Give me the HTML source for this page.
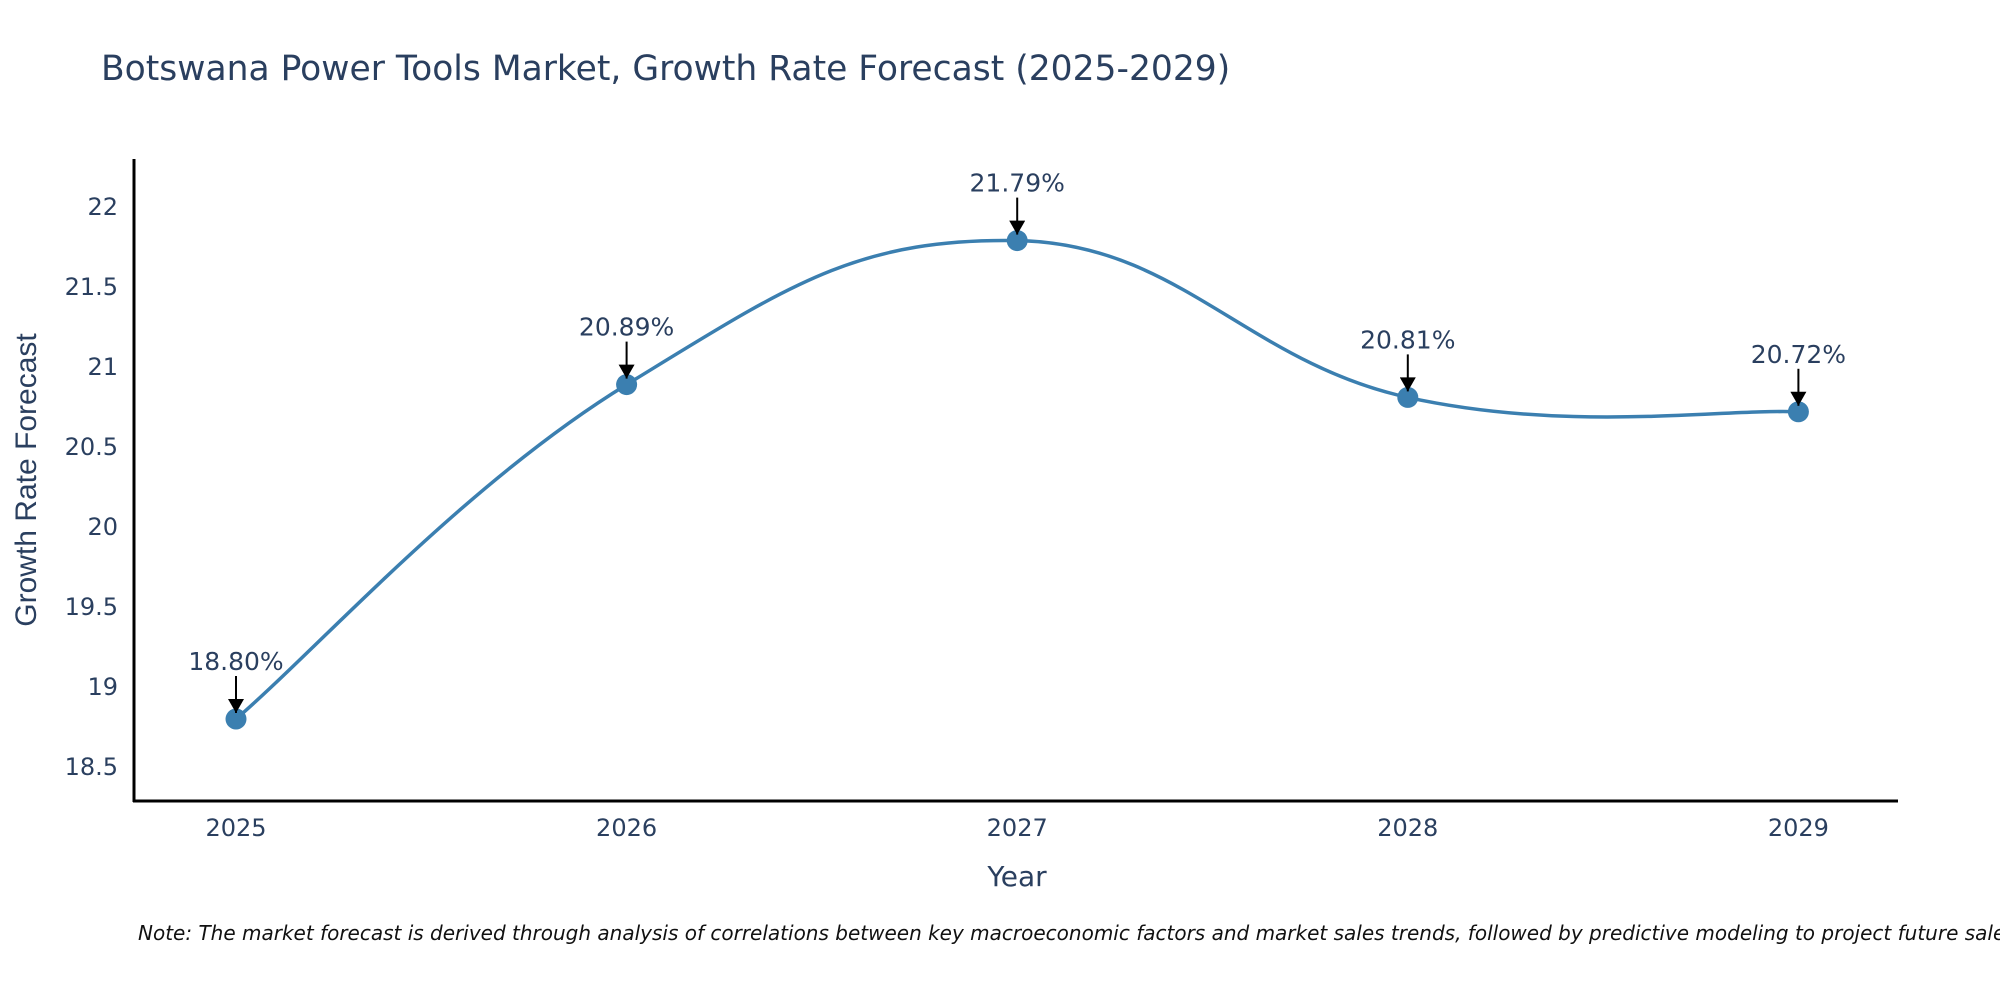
<!DOCTYPE html>
<html><head><meta charset="utf-8"><style>
body{margin:0;background:#fff;}
svg{display:block;font-family:"DejaVu Sans","Liberation Sans",sans-serif;}
</style></head><body>
<svg id="chart" width="2000" height="1000" viewBox="0 0 2000 1000">
<defs>
<marker id="arr" viewBox="0 0 16 16" refX="8" refY="16" markerWidth="16" markerHeight="16" markerUnits="userSpaceOnUse" orient="0"><path d="M0,2 L16,2 L8,16 z" fill="#000"/></marker></defs>
<text x="101" y="80" font-size="34.5" fill="#2a3f5f">Botswana Power Tools Market, Growth Rate Forecast (2025-2029)</text>
<g id="yticks"></g><g id="xticks"></g>
<path id="line" fill="none" stroke="#3b7fb0" stroke-width="3.5"/>
<g id="marks"></g>
<line x1="134" y1="159" x2="134" y2="802" stroke="#000" stroke-width="3"/>
<line x1="133" y1="801" x2="1898" y2="801" stroke="#000" stroke-width="3"/>
<text x="1017" y="886" font-size="28" fill="#2a3f5f" text-anchor="middle">Year</text>
<text transform="translate(36,480) rotate(-90)" font-size="30" fill="#2a3f5f" text-anchor="middle" font-family="Liberation Sans, sans-serif">Growth Rate Forecast</text>
<text x="138" y="940" font-size="20" font-style="italic" fill="#111">Note: The market forecast is derived through analysis of correlations between key macroeconomic factors and market sales trends, followed by predictive modeling to project future sales</text>
</svg>
<script>
const years=["2025","2026","2027","2028","2029"];
const values=[18.80,20.89,21.79,20.81,20.72];
const labels=["18.80%","20.89%","21.79%","20.81%","20.72%"];
const yTicks=[18.5,19,19.5,20,20.5,21,21.5,22];
const NS="http://www.w3.org/2000/svg";
const xs=i=>236+i*390.6;
const ys=v=>207+(22-v)*160;
function mk(tag,attrs,parent,txt){const e=document.createElementNS(NS,tag);for(const k in attrs)e.setAttribute(k,attrs[k]);if(txt!==undefined)e.textContent=txt;parent.appendChild(e);return e;}
const yt=document.getElementById('yticks');
yTicks.forEach(t=>{const e=mk('text',{x:118,y:ys(t)+8,'font-size':24,fill:'#2a3f5f','text-anchor':'end'},yt,String(t));

});
const xt=document.getElementById('xticks');
years.forEach((y,i)=>{const e=mk('text',{x:xs(i),y:836,'font-size':24,fill:'#2a3f5f','text-anchor':'middle'},xt,y);

});
const P=values.map((v,i)=>[xs(i),ys(v)]);
let d=`M${P[0][0]},${P[0][1]}`;
const s=0.62;
for(let i=0;i<P.length-1;i++){const p0=P[i-1]||P[i],p1=P[i],p2=P[i+1],p3=P[i+2]||P[i+1];
const c1=[p1[0]+(p2[0]-p0[0])*s/3,p1[1]+(p2[1]-p0[1])*s/3];
const c2=[p2[0]-(p3[0]-p1[0])*s/3,p2[1]-(p3[1]-p1[1])*s/3];
d+=` C${c1[0]},${c1[1]} ${c2[0]},${c2[1]} ${p2[0]},${p2[1]}`;}
document.getElementById('line').setAttribute('d',d);
const g=document.getElementById('marks');
values.forEach((v,i)=>{const x=xs(i),y=ys(v);
const c=mk('circle',{cx:x,cy:y,r:10.5,fill:'#3b7fb0'},g);


const a=mk('line',{x1:x,y1:y-43,x2:x,y2:y-6,stroke:'#000','stroke-width':2,'marker-end':'url(#arr)'},g);


const t=mk('text',{x:x,y:y-49,'font-size':25,fill:'#2a3f5f','text-anchor':'middle'},g,labels[i]);

});
</script>
</body></html>
